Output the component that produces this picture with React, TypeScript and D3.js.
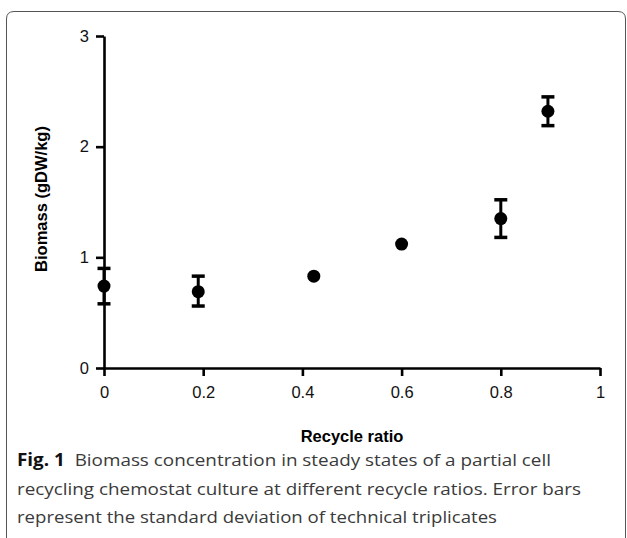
import React, { useEffect, useRef } from 'react';
import * as d3 from 'd3';

// recycle ratio, biomass mean and standard deviation
const ratios = [0, 0.19, 0.423, 0.6, 0.8, 0.895];
const biomass = [0.74, 0.69, 0.83, 1.12, 1.35, 2.32];
const errLow = [0.58, 0.56, null, null, 1.18, 2.19];
const errHigh = [0.9, 0.83, null, null, 1.52, 2.45];
const xTicks = [0, 0.2, 0.4, 0.6, 0.8, 1];
const yTicks = [0, 1, 2, 3];

const captionLines = [
    { bold: 'Fig. 1', text: '  Biomass concentration in steady states of a partial cell', width: 534 },
    { bold: '', text: 'recycling chemostat culture at different recycle ratios. Error bars', width: 564 },
    { bold: '', text: 'represent the standard deviation of technical triplicates', width: 480 },
];

const W = 627;
const H = 538;
const chartFont = '"Liberation Sans", Arial, sans-serif';

const App = () => {
    const ref = useRef<SVGGElement>(null);
    const x = d3.scaleLinear().domain([0, 1]).range([104, 600]);
    const y = d3.scaleLinear().domain([0, 3]).range([368, 36]);

    useEffect(() => {
        const g = d3.select(ref.current);
        g.selectAll('*').remove();

        const xAxis = g.append('g')
            .attr('transform', `translate(0,${y(0)})`)
            .call(d3.axisBottom(x).tickValues(xTicks).tickSize(8).tickSizeOuter(0).tickPadding(10)
                .tickFormat(d => String(d)));
        const yAxis = g.append('g')
            .attr('transform', `translate(${x(0)},0)`)
            .call(d3.axisLeft(y).tickValues(yTicks).tickSize(8).tickSizeOuter(0).tickPadding(7)
                .tickFormat(d => String(d)));

        [xAxis, yAxis].forEach(a => {
            a.attr('font-size', 16.5).attr('font-family', chartFont);
            a.select('.domain').attr('stroke', '#000').attr('stroke-width', 2.6);
            a.selectAll('.tick line').attr('stroke', '#000').attr('stroke-width', 2.6);
            a.selectAll('.tick text').attr('fill', '#111');
        });

        // error bars
        const rows = ratios.map((r, i) => ({ r, v: biomass[i], lo: errLow[i], hi: errHigh[i] }));
        const withErr = rows.filter(d => d.lo !== null);
        const eb = g.append('g').attr('stroke', '#000');
        eb.selectAll('line.stem').data(withErr).enter().append('line')
            .attr('class', 'stem')
            .attr('x1', d => x(d.r)).attr('x2', d => x(d.r))
            .attr('y1', d => y(d.lo as number)).attr('y2', d => y(d.hi as number))
            .attr('stroke-width', 3);
        ['lo', 'hi'].forEach(k => {
            eb.selectAll(`line.cap-${k}`).data(withErr).enter().append('line')
                .attr('class', `cap-${k}`)
                .attr('x1', d => x(d.r) - 6.5).attr('x2', d => x(d.r) + 6.5)
                .attr('y1', d => y((d as any)[k])).attr('y2', d => y((d as any)[k]))
                .attr('stroke-width', 3.5);
        });

        g.append('g').selectAll('circle').data(rows).enter().append('circle')
            .attr('cx', d => x(d.r))
            .attr('cy', d => y(d.v))
            .attr('r', 6.5)
            .attr('fill', '#000');
    }, []);

    return (
        <svg width={W} height={H} style={{ position: 'absolute', left: 0, top: 0 }}>
            <rect width={W} height={H} fill="#fff" />
            <path d="M6.5,540 L6.5,19 Q6.5,11.5 14,11.5 L618,11.5 Q625.5,11.5 625.5,19 L625.5,540"
                fill="none" stroke="#555" strokeWidth={1} />
            <g ref={ref} />
            <text x={352} y={442} textAnchor="middle"
                style={{ fontFamily: chartFont, fontSize: 16.5, fontWeight: 'bold' }}>
                Recycle ratio
            </text>
            <text transform="translate(47,199) rotate(-90)" textAnchor="middle"
                style={{ fontFamily: chartFont, fontSize: 16.5, fontWeight: 'bold' }}>
                Biomass (gDW/kg)
            </text>
            {captionLines.map((l, i) => (
                <text key={i} x={17} y={466 + i * 28.5} textLength={l.width} lengthAdjust="spacingAndGlyphs"
                    style={{ fontFamily: '"Open Sans", sans-serif', fontSize: 17, fill: '#3a3a3a' }}>
                    {l.bold && <tspan fontWeight="bold" fill="#111">{l.bold}</tspan>}
                    <tspan xmlSpace="preserve">{l.text}</tspan>
                </text>
            ))}
        </svg>
    );
};

export default App;
